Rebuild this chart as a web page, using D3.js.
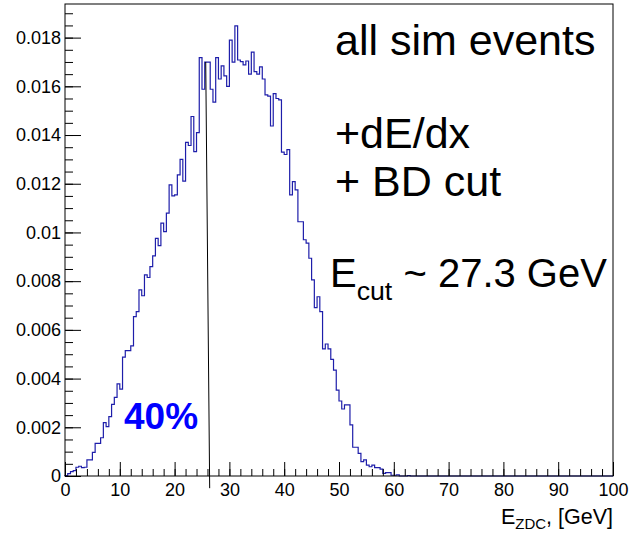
<!DOCTYPE html>
<html>
<head>
<meta charset="utf-8">
<script src="https://cdn.jsdelivr.net/npm/d3@7"></script>
<style>
  body { margin: 0; background: #fff; }
  svg { display: block; }
  text { font-family: "Liberation Sans", Arial, Helvetica, sans-serif; }
</style>
</head>
<body>
<svg id="chart" width="637" height="533"></svg>
<script>
// Normalised E_ZDC spectrum, 0.5 GeV bins starting at 0 GeV (bins past the list are empty)
const binWidth = 0.5;
const binValues = [
  0.00002, 0.00010, 0.00018, 0.00022, 0.00036, 0.00040, 0.00034, 0.00036, 0.00066, 0.00066,
  0.00097, 0.00134, 0.00134, 0.00157, 0.00219, 0.00203, 0.00244, 0.00294, 0.00323, 0.00378,
  0.00357, 0.00488, 0.00515, 0.00515, 0.00534, 0.00654, 0.00675, 0.00764, 0.00740, 0.00826,
  0.00815, 0.00860, 0.00904, 0.00976, 0.00946, 0.01038, 0.01003, 0.01079, 0.01195, 0.01150,
  0.01154, 0.01236, 0.01300, 0.01211, 0.01370, 0.01357, 0.01476, 0.01332, 0.01410, 0.01718,
  0.01588, 0.01699, 0.01699, 0.01588, 0.01535, 0.01718, 0.01630, 0.01684, 0.01643, 0.01600,
  0.01790, 0.01699, 0.01848, 0.01708, 0.01701, 0.01688, 0.01704, 0.01650, 0.01740, 0.01660,
  0.01650, 0.01680, 0.01630, 0.01565, 0.01560, 0.01437, 0.01570, 0.01550, 0.01544, 0.01330,
  0.01320, 0.01340, 0.01154, 0.01209, 0.01175, 0.01044, 0.01044, 0.00970, 0.00956, 0.00894,
  0.00805, 0.00691, 0.00736, 0.00675, 0.00522, 0.00542, 0.00522, 0.00479, 0.00435, 0.00353,
  0.00308, 0.00275, 0.00292, 0.00292, 0.00210, 0.00118, 0.00118, 0.00093, 0.00059, 0.00066,
  0.00045, 0.00038, 0.00045, 0.00034, 0.00034, 0.00028, 0.00011, 0.00014, 0.00014, 0.00003,
  0.00003, 0.00005, 0, 0, 0, 0.00002
];

// Axis ranges and ticks
const xRange = [0, 100];
const yRange = [0, 0.01938];
const xMajorTicks = [0, 10, 20, 30, 40, 50, 60, 70, 80, 90, 100];
const xMinorStep = 2;
const yMajorTicks = [0, 0.002, 0.004, 0.006, 0.008, 0.01, 0.012, 0.014, 0.016, 0.018];
const yTickLabels = ["0", "0.002", "0.004", "0.006", "0.008", "0.01", "0.012", "0.014", "0.016", "0.018"];
const yMinorStep = 0.0005;

// Hand-drawn cut marker (E, value) endpoints
const cutLine = [{ e: 25.68, v: 0.01700 }, { e: 26.40, v: -0.00050 }];

const frame = { left: 65, right: 613, top: 4, bottom: 476 };

const svg = d3.select("#chart");

const x = d3.scaleLinear().domain(xRange).range([frame.left, frame.right]);
const y = d3.scaleLinear().domain(yRange).range([frame.bottom, frame.top]);

// Histogram outline: step path through every bin over the full axis range
const nBins = Math.round((xRange[1] - xRange[0]) / binWidth);
const bins = d3.range(nBins).map(i => ({
  lo: xRange[0] + i * binWidth,
  hi: xRange[0] + (i + 1) * binWidth,
  v: binValues[i] || 0
}));
const pts = [[bins[0].lo, 0]];
bins.forEach(b => { pts.push([b.lo, b.v]); pts.push([b.hi, b.v]); });
pts.push([bins[bins.length - 1].hi, 0]);

const line = d3.line().x(d => x(d[0])).y(d => y(d[1]));

svg.append("path")
  .attr("d", line(pts))
  .attr("fill", "none")
  .attr("stroke", "#1e1eaa")
  .attr("stroke-width", 1.2)
  .attr("stroke-linejoin", "miter");

// Frame
svg.append("rect")
  .attr("x", frame.left).attr("y", frame.top)
  .attr("width", frame.right - frame.left).attr("height", frame.bottom - frame.top)
  .attr("fill", "none").attr("stroke", "#000").attr("stroke-width", 1);

// Y axis: major ticks with labels, minor ticks (all pointing inside the frame)
const yMinorTicks = d3.range(0, yRange[1], yMinorStep);
const yMinor = d3.axisLeft(y).tickValues(yMinorTicks).tickSizeInner(-8).tickSizeOuter(0).tickFormat("");
svg.append("g").attr("transform", `translate(${frame.left},0)`).call(yMinor)
  .call(g => g.select(".domain").remove());

const yMajor = d3.axisLeft(y).tickValues(yMajorTicks).tickSizeInner(-16).tickSizeOuter(0)
  .tickPadding(4)
  .tickFormat((d, i) => yTickLabels[i]);
svg.append("g").attr("transform", `translate(${frame.left},0)`).call(yMajor)
  .call(g => g.select(".domain").remove())
  .call(g => g.selectAll("text").attr("font-size", 18).attr("font-family", "Liberation Sans, Arial, sans-serif").attr("fill", "#000"));

// X axis
const xMinorTicks = d3.range(xRange[0], xRange[1] + 0.001, xMinorStep);
const xMinor = d3.axisBottom(x).tickValues(xMinorTicks).tickSizeInner(-7).tickSizeOuter(0).tickFormat("");
svg.append("g").attr("transform", `translate(0,${frame.bottom})`).call(xMinor)
  .call(g => g.select(".domain").remove());

const xMajor = d3.axisBottom(x).tickValues(xMajorTicks).tickSizeInner(-14).tickSizeOuter(0)
  .tickPadding(7).tickFormat(d3.format("d"));
svg.append("g").attr("transform", `translate(0,${frame.bottom})`).call(xMajor)
  .call(g => g.select(".domain").remove())
  .call(g => g.selectAll("text").attr("font-size", 18).attr("font-family", "Liberation Sans, Arial, sans-serif").attr("fill", "#000"));

svg.selectAll(".tick line").attr("stroke", "#000");

// Cut marker
svg.append("path")
  .attr("d", d3.line().x(d => x(d.e)).y(d => y(d.v))(cutLine))
  .attr("stroke", "#000").attr("stroke-width", 1).attr("fill", "none");

// X axis title with subscript
const xt = svg.append("text")
  .attr("x", frame.right).attr("y", 524)
  .attr("text-anchor", "end").attr("font-size", 21.5).attr("fill", "#000");
xt.append("tspan").text("E");
xt.append("tspan").attr("font-size", 15).attr("dy", 5).text("ZDC");
xt.append("tspan").attr("dy", -5).text(", [GeV]");

// Annotations
const notes = svg.append("g").attr("fill", "#000").attr("font-size", 43);
notes.append("text").attr("x", 335).attr("y", 55).text("all sim events");
notes.append("text").attr("x", 335).attr("y", 148).text("+dE/dx");
notes.append("text").attr("x", 335).attr("y", 196).text("+ BD cut");
const ec = notes.append("text").attr("x", 330).attr("y", 287).attr("font-size", 40);
ec.append("tspan").text("E");
ec.append("tspan").attr("font-size", 26.7).attr("dy", 13).text("cut");
ec.append("tspan").attr("dy", -13).text(" ~ 27.3 GeV");

svg.append("text")
  .attr("x", 124).attr("y", 429)
  .attr("font-size", 37).attr("font-weight", "bold").attr("fill", "#0000ff")
  .text("40%");
</script>
</body>
</html>
